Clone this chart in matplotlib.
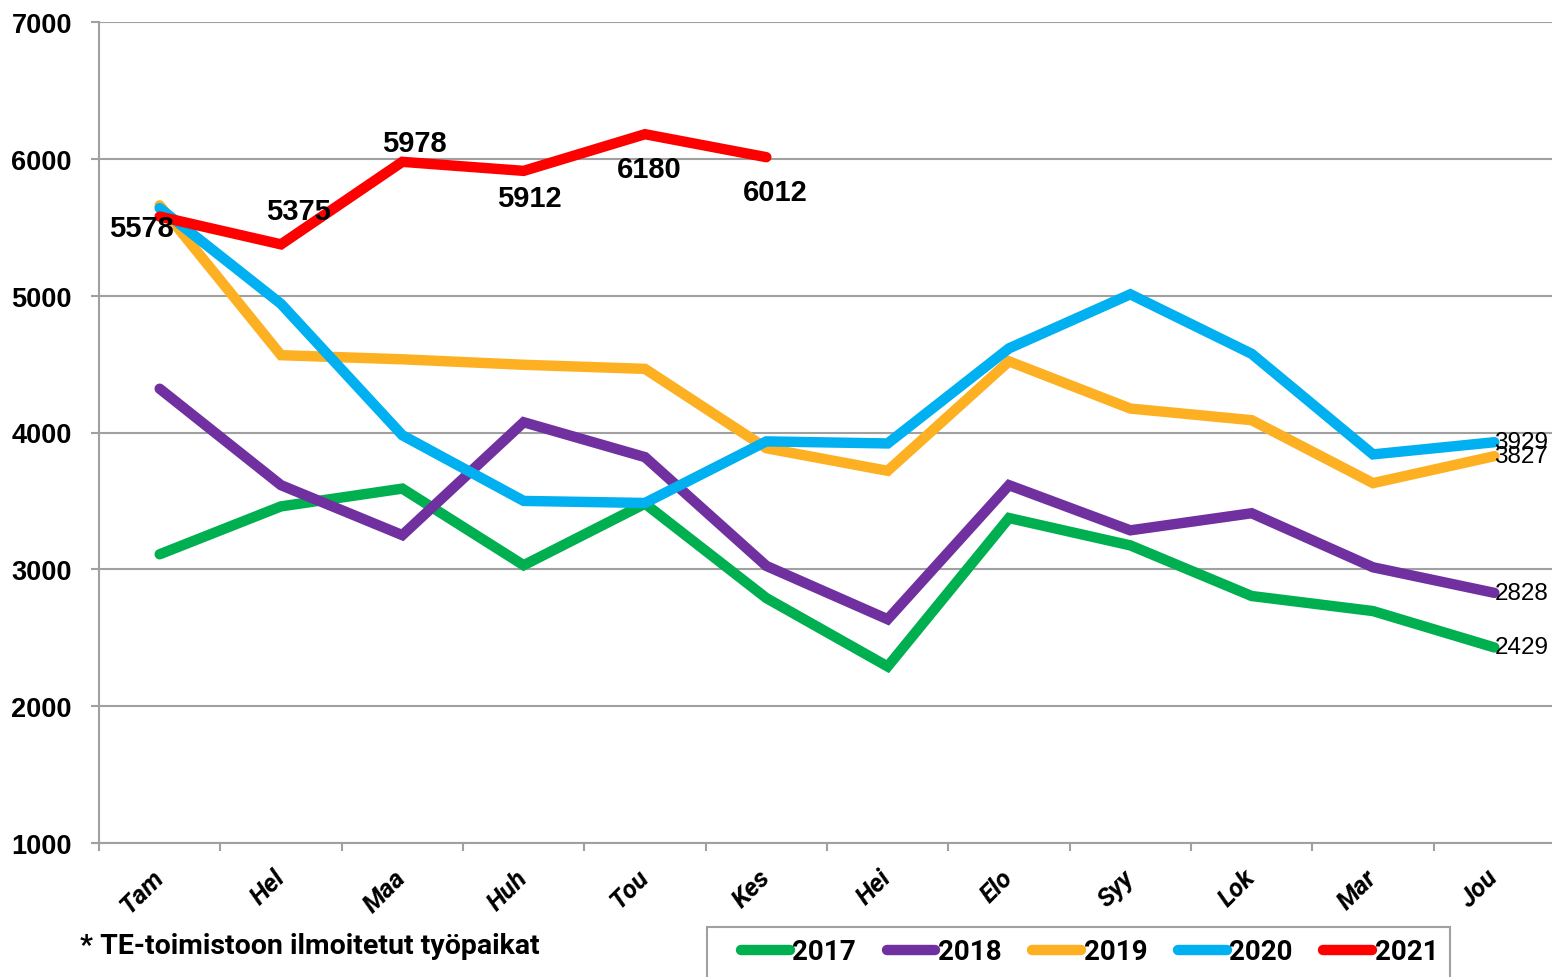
import matplotlib
matplotlib.use("Agg")
import matplotlib.pyplot as plt
from matplotlib.lines import Line2D
from matplotlib.patches import Rectangle

months = ["Tam", "Hel", "Maa", "Huh", "Tou", "Kes", "Hei", "Elo", "Syy", "Lok", "Mar", "Jou"]
y2017 = [3110, 3460, 3590, 3030, 3480, 2790, 2290, 3375, 3175, 2805, 2695, 2429]
y2018 = [4320, 3615, 3250, 4075, 3820, 3025, 2635, 3615, 3285, 3410, 3015, 2828]
y2019 = [5660, 4565, 4535, 4495, 4465, 3885, 3720, 4520, 4175, 4090, 3630, 3827]
y2020 = [5640, 4940, 3980, 3500, 3485, 3935, 3920, 4615, 5010, 4575, 3840, 3929]
y2021 = [5578, 5375, 5978, 5912, 6180, 6012]
years = ["2017", "2018", "2019", "2020", "2021"]
series = [y2017, y2018, y2019, y2020, y2021]
colors = ["#00B050", "#7030A0", "#FDB022", "#00B0F0", "#FF0000"]
yticks = [1000, 2000, 3000, 4000, 5000, 6000, 7000]
footnote = "* TE-toimistoon ilmoitetut työpaikat"

# label offsets (pixels) for 2021 values
red_offsets = [(-18, -11), (17, 33), (12, 19), (6, -27), (4, -35), (9, -35)]

narrow = ["Roboto", "DejaVu Sans"]
arial = ["Liberation Sans", "DejaVu Sans"]

W, H = 1552, 978
fig = plt.figure(figsize=(W / 100, H / 100), dpi=100)
ax = fig.add_axes([99 / W, 1 - 844 / H, 1456 / W, 821 / H])

x = list(range(len(months)))
for vals, c, yr in zip(series, colors, years):
    ax.plot(x[:len(vals)], vals, color=c, lw=7.5, solid_capstyle="round",
            solid_joinstyle="miter", label=yr, zorder=3)

# end labels for full-year series
for vals in series[:4]:
    ax.annotate(str(vals[-1]), (x[len(vals) - 1], vals[-1]), xytext=(0, 0),
                textcoords="offset pixels", ha="left", va="center",
                fontsize=17.5, family=arial, color="black", zorder=5)

for i, v in enumerate(y2021):
    dx, dy = red_offsets[i]
    ax.annotate(str(v), (x[i], v), xytext=(dx, dy), textcoords="offset pixels",
                ha="center", va="center", fontsize=21, fontweight="bold",
                family=arial, color="black", zorder=5)

ax.set_xlim(-0.5, len(months) - 0.5)
ax.set_ylim(1000, 7000)
ax.set_yticks(yticks)
ax.set_yticklabels([str(t) for t in yticks], fontsize=19.5, fontweight="bold", family=arial)
ax.yaxis.grid(True, color="#A0A0A0", lw=1.5, zorder=1)
ax.set_axisbelow(True)

ax.set_xticks([i - 0.5 for i in range(len(months) + 1)])
ax.set_xticklabels([])
ax.set_xticks(x, minor=True)
ax.set_xticklabels(months, minor=True, rotation=45, ha="right", va="center",
                   rotation_mode="anchor", fontsize=18.5, fontweight="bold",
                   fontstyle="italic", family=narrow)
ax.tick_params(axis="x", which="major", length=6, width=1.5, color="#A0A0A0", direction="out")
ax.tick_params(axis="x", which="minor", length=0, pad=22)
ax.tick_params(axis="y", length=6, width=1.5, color="#A0A0A0", pad=13.5)

for s in ["top", "right"]:
    ax.spines[s].set_visible(False)
for s in ["left", "bottom"]:
    ax.spines[s].set_color("#A0A0A0")
    ax.spines[s].set_linewidth(1.5)

fig.text(80 / W, 1 - 947 / H, footnote, fontsize=20.5, fontweight="bold",
         family=narrow, ha="left", va="center")

# legend frame (extends below the figure edge as in the reference)
fig.patches.append(Rectangle((707 / W, 1 - 992 / H), (1450 - 707) / W, (992 - 928) / H,
                             transform=fig.transFigure, fill=False,
                             edgecolor="#A0A0A0", lw=1.5, zorder=1))

handles = [Line2D([], [], color=c, lw=7.5, solid_capstyle="round") for c in colors]
leg = fig.legend(handles, years, loc="center left", bbox_to_anchor=(741 / W, 1 - 953 / H),
                 ncol=5, frameon=False,
                 prop={"family": narrow, "weight": "bold", "size": 20},
                 handlelength=1.75, handletextpad=0.1, columnspacing=1.1,
                 borderpad=0, borderaxespad=0)

fig.savefig("out.png", dpi=100)
